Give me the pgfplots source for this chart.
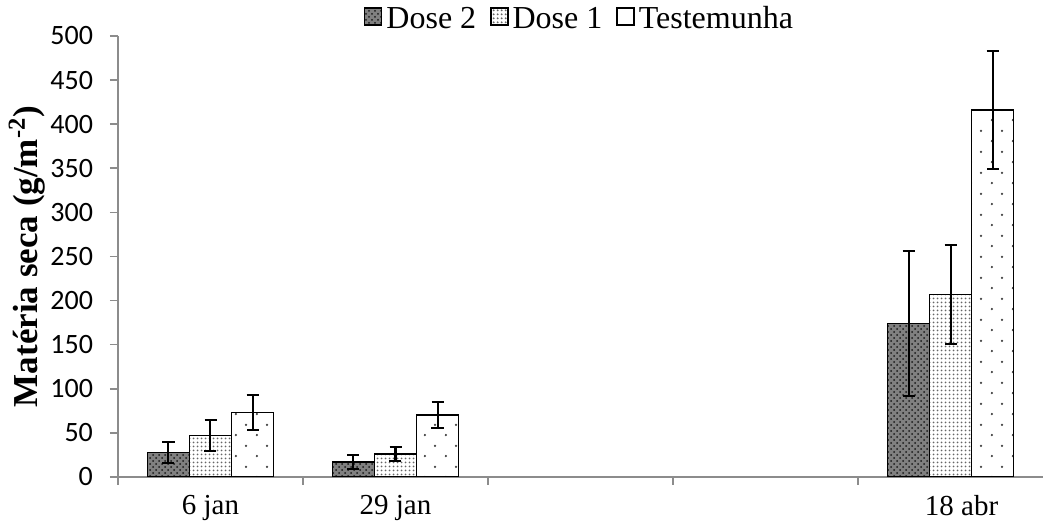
\documentclass[border=0pt]{standalone}
\usepackage{pgfplots}
\pgfplotsset{compat=1.18}
\usepackage{fontspec}
\setmainfont{Liberation Serif}
\newfontfamily\calibri{Carlito}
\usetikzlibrary{patterns}

% sparse staggered dots (Testemunha)
\pgfdeclarepatternformonly{sparsedots}{\pgfpointorigin}{\pgfqpoint{10.5pt}{10.5pt}}{\pgfqpoint{10.5pt}{10.5pt}}{
  \pgfpathcircle{\pgfqpoint{2.6pt}{2.6pt}}{0.65pt}
  \pgfpathcircle{\pgfqpoint{7.9pt}{7.9pt}}{0.65pt}
  \pgfusepath{fill}}
% dense dots (Dose 1)
\pgfdeclarepatternformonly{finedots}{\pgfpointorigin}{\pgfqpoint{2pt}{2pt}}{\pgfqpoint{2pt}{2pt}}{
  \pgfpathcircle{\pgfqpoint{1pt}{1pt}}{0.6pt}
  \pgfusepath{fill}}

\pgfplotsset{
  errbar/.style={
    error bars/y dir=both, error bars/y explicit,
    error bars/error bar style={black, line width=1pt},
    error bars/error mark options={rotate=90, mark size=3pt, line width=1pt, black},
  },
}

\begin{document}
\begin{tikzpicture}
\begin{axis}[
  scale only axis,
  width=462.5pt, height=220.5pt,
  ybar=0pt, bar width=21pt,
  xmin=-0.5, xmax=4.5,
  ymin=0, ymax=500,
  xtick={0,1,4.06},
  xticklabels={6 jan,29 jan,18 abr},
  minor xtick={-0.5,0.5,1.5,2.5,3.5},
  major x tick style={draw=none},
  ytick={0,50,...,500},
  axis x line*=bottom, axis y line*=left,
  axis line style={black!45, line width=0.8pt, -},
  tick style={black!45, line width=0.8pt},
  tick align=outside,
  major tick length=4pt, minor tick length=4pt,
  /pgf/number format/assume math mode=true,
  yticklabel style={font=\calibri\fontsize{14}{16}\selectfont, xshift=-5pt},
  xticklabel style={font=\fontsize{14.5}{16}\selectfont, yshift=-1.5pt},
  ylabel={\bfseries Matéria seca (g/m\textsuperscript{-2})},
  ylabel style={at={(axis description cs:-0.0984,0.5)}, anchor=center, font=\fontsize{17.5}{19}\selectfont},
  legend style={at={(0.5,1)}, anchor=south, legend columns=-1, draw=none, fill=none,
    font=\fontsize{16}{18}\selectfont, inner sep=0pt,
    /tikz/every even column/.append style={column sep=5pt}},
  legend image code/.code={\draw[#1, draw=black, line width=0.7pt] (0pt,-3pt) rectangle (8.5pt,5.5pt);},
  every axis plot/.append style={draw=black, line width=0.8pt},
]
\addplot[errbar, fill=black!50, postaction={pattern=crosshatch dots, pattern color=black!90}]
  coordinates {(0,28) +- (0,12) (1,17) +- (0,8) (4,174) +- (0,82)};
\addlegendentry{Dose 2}
\addplot[errbar, fill=white, postaction={pattern=finedots, pattern color=black!60}]
  coordinates {(0,47) +- (0,18) (1,26) +- (0,7.5) (4,207) +- (0,56)};
\addlegendentry{Dose 1}
\addplot[errbar, fill=white, postaction={pattern=sparsedots, pattern color=black!75}]
  coordinates {(0,73) +- (0,20) (1,70) +- (0,15) (4,416) +- (0,67)};
\addlegendentry{Testemunha}
\end{axis}
\pgfresetboundingbox
\path ([shift={(-59pt,-23.5pt)}]current axis.south west) rectangle ([shift={(0pt,18pt)}]current axis.north east);
\end{tikzpicture}
\end{document}
